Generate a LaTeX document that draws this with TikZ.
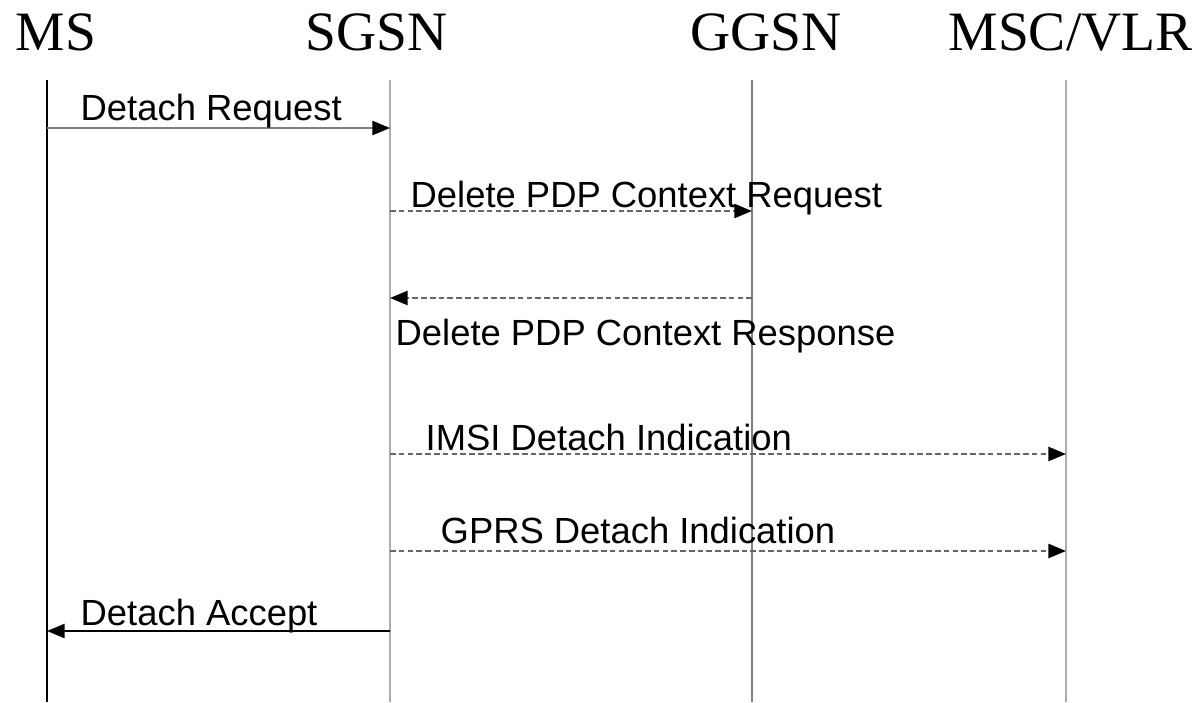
\documentclass[tikz,border=0pt]{standalone}
\usepackage{fontspec}
\setmainfont{Liberation Serif}
\setsansfont{Liberation Sans}
\usetikzlibrary{arrows.meta}

\tikzset{
  entity/.style={anchor=base west,inner sep=0pt,font=\fontsize{15.8}{18}\selectfont},
  lifeline/.style={line width=0.6pt,draw=gray!65},
  msg/.style={-{Triangle[length=5pt,width=4pt,color=black]},line width=0.6pt},
  async/.style={msg,draw=gray!80!black,dash pattern=on 1.6pt off 0.9pt},
  msglabel/.style={anchor=base west,inner sep=0pt,font=\sffamily\fontsize{10.35}{12}\selectfont}
}

\begin{document}
\begin{tikzpicture}[x=0.01cm,y=-0.01cm]
\useasboundingbox (0,0) rectangle (1202,702);

% entities
\node[entity] (ms) at (15,50) {MS};
\node[entity] (sgsn) at (305,50) {SGSN};
\node[entity] (ggsn) at (690,50) {GGSN};
\node[entity] (msc) at (948,50) {MSC/VLR};

% lifelines
\coordinate (ms top) at (47,80);     \coordinate (ms bot) at (47,702);
\coordinate (sgsn top) at (390,80);  \coordinate (sgsn bot) at (390,702);
\coordinate (ggsn top) at (752,80);  \coordinate (ggsn bot) at (752,702);
\coordinate (msc top) at (1066,80);  \coordinate (msc bot) at (1066,702);
\draw[lifeline,draw=black] (ms top) -- (ms bot);
\draw[lifeline] (sgsn top) -- (sgsn bot);
\draw[lifeline,draw=gray] (ggsn top) -- (ggsn bot);
\draw[lifeline] (msc top) -- (msc bot);

% messages
\draw[msg,draw=gray] (ms top |- 0,128) -- (sgsn top |- 0,128);
\node[msglabel] (l1) at (80,120) {Detach Request};

\draw[async] (sgsn top |- 0,211) -- (ggsn top |- 0,211);
\node[msglabel] (l2) at (410,207) {Delete PDP Context Request};

\draw[async] (ggsn top |- 0,298) -- (sgsn top |- 0,298);
\node[msglabel] (l3) at (395,345) {Delete PDP Context Response};

\draw[async] (sgsn top |- 0,454) -- (msc top |- 0,454);
\node[msglabel] (l4) at (425,450) {IMSI Detach Indication};

\draw[async] (sgsn top |- 0,551) -- (msc top |- 0,551);
\node[msglabel] (l5) at (440,543) {GPRS Detach Indication};

\draw[msg] (sgsn top |- 0,631) -- (ms top |- 0,631);
\node[msglabel] (l6) at (80,625) {Detach Accept};
\end{tikzpicture}
\end{document}
